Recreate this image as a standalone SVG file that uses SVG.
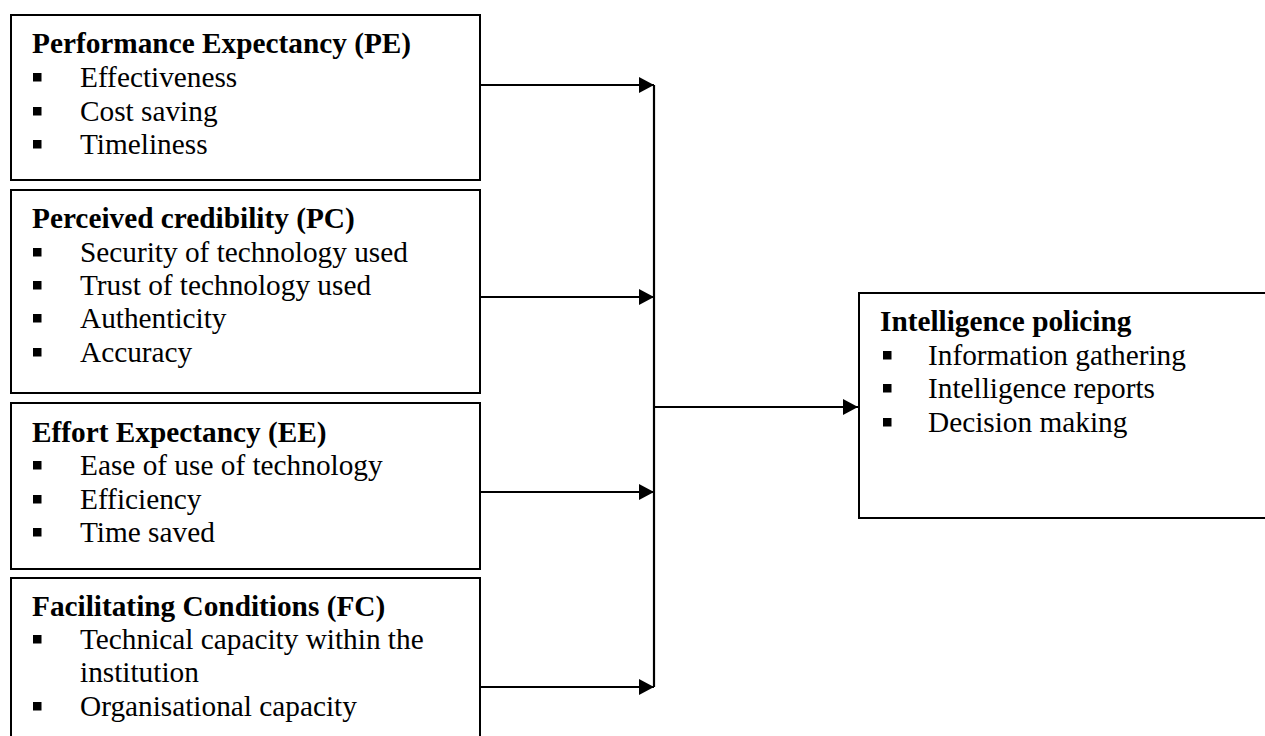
<svg xmlns="http://www.w3.org/2000/svg" width="1265" height="736" viewBox="0 0 1265 736">
<style>
.box{fill:#fff;stroke:#000;stroke-width:2}
.t{font-family:"Liberation Serif","Times New Roman",serif;font-size:29.3px;fill:#000}
.b{font-weight:bold}
.bl{fill:#000}
.c{stroke:#000;stroke-width:2.2;fill:none}
</style>
<defs>
<marker id="ah" markerUnits="userSpaceOnUse" markerWidth="16" markerHeight="16" refX="15" refY="8" orient="auto" viewBox="0 0 16 16">
<path d="M0,0 L15,8 L0,16 Z" fill="#000"/>
</marker>
</defs>
<rect width="1265" height="736" fill="#fff"/>
<g id="pe">
<rect class="box" x="11" y="15" width="469" height="165"/>
<text class="t b" x="32" y="53">Performance Expectancy (PE)</text>
<rect class="bl" x="33" y="73" width="8.5" height="8.5"/><text class="t" x="80" y="87">Effectiveness</text>
<rect class="bl" x="33" y="107" width="8.5" height="8.5"/><text class="t" x="80" y="121">Cost saving</text>
<rect class="bl" x="33" y="140" width="8.5" height="8.5"/><text class="t" x="80" y="154">Timeliness</text>
</g>
<g id="pc">
<rect class="box" x="11" y="190" width="469" height="203"/>
<text class="t b" x="32" y="228">Perceived credibility (PC)</text>
<rect class="bl" x="33" y="248" width="8.5" height="8.5"/><text class="t" x="80" y="262">Security of technology used</text>
<rect class="bl" x="33" y="281" width="8.5" height="8.5"/><text class="t" x="80" y="295">Trust of technology used</text>
<rect class="bl" x="33" y="314" width="8.5" height="8.5"/><text class="t" x="80" y="328">Authenticity</text>
<rect class="bl" x="33" y="348" width="8.5" height="8.5"/><text class="t" x="80" y="362">Accuracy</text>
</g>
<g id="ee">
<rect class="box" x="11" y="403" width="469" height="166"/>
<text class="t b" x="32" y="442">Effort Expectancy (EE)</text>
<rect class="bl" x="33" y="461" width="8.5" height="8.5"/><text class="t" x="80" y="475">Ease of use of technology</text>
<rect class="bl" x="33" y="495" width="8.5" height="8.5"/><text class="t" x="80" y="509">Efficiency</text>
<rect class="bl" x="33" y="528" width="8.5" height="8.5"/><text class="t" x="80" y="542">Time saved</text>
</g>
<g id="fc">
<rect class="box" x="11" y="578" width="469" height="180"/>
<text class="t b" x="32" y="616">Facilitating Conditions (FC)</text>
<rect class="bl" x="33" y="635" width="8.5" height="8.5"/><text class="t" x="80" y="649">Technical capacity within the</text>
<text class="t" x="80" y="682">institution</text>
<rect class="bl" x="33" y="702" width="8.5" height="8.5"/><text class="t" x="80" y="716">Organisational capacity</text>
</g>
<g id="ip">
<rect class="box" x="859" y="293" width="420" height="225"/>
<text class="t b" x="880" y="331">Intelligence policing</text>
<rect class="bl" x="883" y="351" width="8.5" height="8.5"/><text class="t" x="928" y="365">Information gathering</text>
<rect class="bl" x="883" y="384" width="8.5" height="8.5"/><text class="t" x="928" y="398">Intelligence reports</text>
<rect class="bl" x="883" y="418" width="8.5" height="8.5"/><text class="t" x="928" y="432">Decision making</text>
</g>
<g id="connectors">
<line class="c" x1="480" y1="85" x2="654" y2="85" marker-end="url(#ah)"/>
<line class="c" x1="480" y1="297" x2="654" y2="297" marker-end="url(#ah)"/>
<line class="c" x1="480" y1="492" x2="654" y2="492" marker-end="url(#ah)"/>
<line class="c" x1="480" y1="687" x2="654" y2="687" marker-end="url(#ah)"/>
<line class="c" x1="654" y1="85" x2="654" y2="687"/>
<line class="c" x1="654" y1="407" x2="858" y2="407" marker-end="url(#ah)"/>
</g>
</svg>
